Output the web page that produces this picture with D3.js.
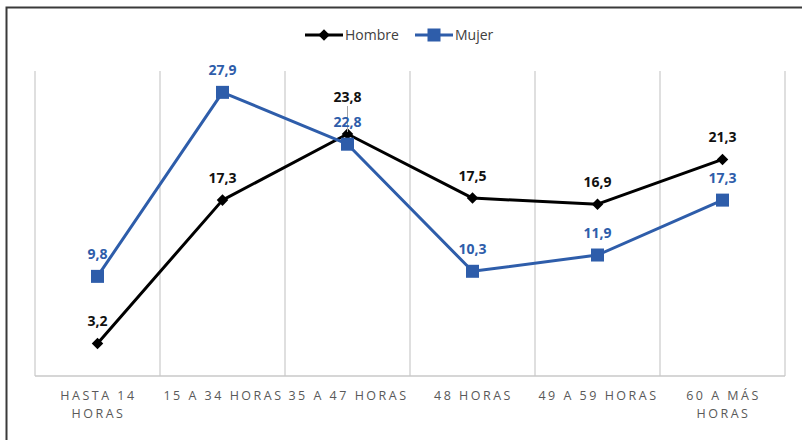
<!DOCTYPE html>
<html>
<head>
<meta charset="utf-8">
<script src="https://cdn.jsdelivr.net/npm/d3@7"></script>
<style>
  body { margin: 0; background: #fff; }
  svg { display: block; font-family: "Open Sans", "Noto Sans", sans-serif; }
</style>
</head>
<body>
<svg id="chart" width="802" height="440"></svg>
<script>
// Data -----------------------------------------
var categories = [["HASTA 14", "HORAS"], ["15 A 34 HORAS"], ["35 A 47 HORAS"], ["48 HORAS"], ["49 A 59 HORAS"], ["60 A MÁS", "HORAS"]];
var hombre = [3.2, 17.3, 23.8, 17.5, 16.9, 21.3];
var mujer = [9.8, 27.9, 22.8, 10.3, 11.9, 17.3];
var seriesNames = ["Hombre", "Mujer"];
var seriesColors = ["#000000", "#2E5DAA"];

var svg = d3.select("#chart");
var plotLeft = 35, plotRight = 785, plotTop = 71, plotBottom = 376;

// Scales ---------------------------------------
var x = d3.scaleBand()
    .domain(d3.range(categories.length))
    .range([plotLeft, plotRight]);

var y = d3.scaleLinear()
    .domain([0, 30])
    .range([plotBottom, plotTop]);

var fmt = function(v) { return d3.format(".1f")(v).replace(".", ","); };
var cx = function(i) { return x(i) + x.bandwidth() / 2; };

// Frame ----------------------------------------
svg.append("path")
    .attr("d", "M6.5,440 V7.5 H802")
    .attr("fill", "none")
    .attr("stroke", "#3a3a3a")
    .attr("stroke-width", 2);

// Grid -----------------------------------------
var gridX = d3.range(categories.length + 1).map(function(i) { return plotLeft + i * x.bandwidth(); });
svg.selectAll(".grid")
    .data(gridX)
    .enter()
    .append("line")
    .attr("x1", function(d) { return d; })
    .attr("x2", function(d) { return d; })
    .attr("y1", plotTop)
    .attr("y2", plotBottom)
    .attr("stroke", "#d4d4d4")
    .attr("stroke-width", 1.5);

svg.append("line")
    .attr("x1", plotLeft).attr("x2", plotRight)
    .attr("y1", plotBottom).attr("y2", plotBottom)
    .attr("stroke", "#c8c8c8")
    .attr("stroke-width", 1.5);

// Category labels ------------------------------
var cat = svg.selectAll(".cat")
    .data(categories)
    .enter()
    .append("text")
    .attr("text-anchor", "middle")
    .attr("font-size", 12.5)
    .attr("letter-spacing", 2.5)
    .attr("fill", "#595959");

cat.selectAll("tspan")
    .data(function(d, i) { return d.map(function(s) { return { s: s, i: i }; }); })
    .enter()
    .append("tspan")
    .attr("x", function(d) { return cx(d.i) + 1; })
    .attr("y", function(d, j) { return 400 + j * 18; })
    .text(function(d) { return d.s; });

// Lines ----------------------------------------
var line = d3.line()
    .x(function(d, i) { return cx(i); })
    .y(function(d) { return y(d); });

var series = [hombre, mujer];

series.forEach(function(vals, s) {
    svg.append("path")
        .datum(vals)
        .attr("d", line)
        .attr("fill", "none")
        .attr("stroke", seriesColors[s])
        .attr("stroke-width", 3)
        .attr("stroke-linejoin", "round");
});

// Markers
function drawMarker(g, s, px, py) {
    if (s === 0) {
        g.append("path")
            .attr("d", d3.symbol(d3.symbolDiamond2, 85)())
            .attr("transform", "translate(" + px + "," + py + ")")
            .attr("fill", seriesColors[s]);
    } else {
        g.append("rect")
            .attr("x", px - 6.5).attr("y", py - 6.5)
            .attr("width", 13).attr("height", 13)
            .attr("fill", seriesColors[s]);
    }
}

series.forEach(function(vals, s) {
    var g = svg.append("g");
    vals.forEach(function(v, i) {
        drawMarker(g, s, cx(i), y(v));
    });
});

// Leader line for the moved 23,8 label
svg.append("line")
    .attr("x1", cx(2)).attr("x2", cx(2))
    .attr("y1", y(hombre[2]) - 28).attr("y2", y(hombre[2]) - 2)
    .attr("stroke", "#a6a6a6")
    .attr("stroke-width", 1);

// Value labels
series.forEach(function(vals, s) {
    svg.selectAll(".lab" + s)
        .data(vals)
        .enter()
        .append("text")
        .attr("x", function(d, i) { return cx(i); })
        .attr("y", function(d, i) { return y(d) - (s === 0 && i === 2 ? 32 : 17); })
        .attr("text-anchor", "middle")
        .attr("font-size", 14)
        .attr("font-weight", "bold")
        .attr("fill", s === 0 ? "#111" : seriesColors[s])
        .text(fmt);
});

// Legend ---------------------------------------
var legendX = [305, 415];
seriesNames.forEach(function(name, s) {
    var lx = legendX[s], ly = 35;
    svg.append("line")
        .attr("x1", lx).attr("x2", lx + 38)
        .attr("y1", ly).attr("y2", ly)
        .attr("stroke", seriesColors[s])
        .attr("stroke-width", 3);
    drawMarker(svg, s, lx + 19, ly);
    svg.append("text")
        .attr("x", lx + 40)
        .attr("y", ly + 5)
        .attr("font-size", 14)
        .attr("fill", "#404040")
        .text(name);
});
</script>
</body>
</html>
